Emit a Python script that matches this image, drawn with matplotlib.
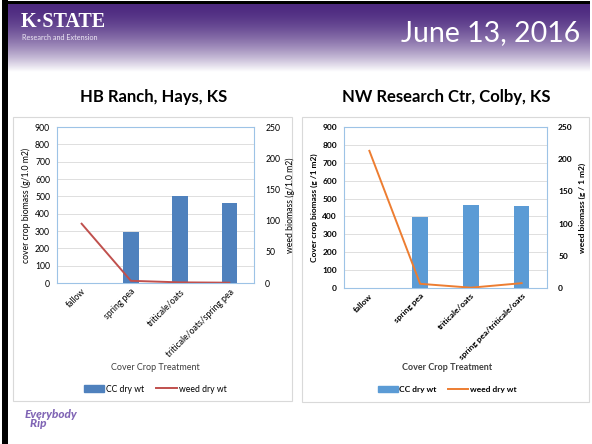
import numpy as np
import matplotlib
matplotlib.use("Agg")
import matplotlib.pyplot as plt
from matplotlib.patches import Rectangle
from matplotlib.lines import Line2D

# ---- data ----
hays_treatments = ["fallow", "spring pea", "triticale/oats", "triticale/oats/spring pea"]
hays_cc_wt = [0, 295, 500, 462]
hays_weed_wt = [95, 3.5, 1.0, 0.5]

colby_treatments = ["fallow", "spring pea", "triticale/oats", "spring pea/triticale/oats"]
colby_cc_wt = [0, 395, 462, 458]
colby_weed_wt = [213, 6.5, 0.5, 7.5]

cc_ticks = list(range(0, 1000, 100))
weed_ticks = list(range(0, 300, 50))

plt.rcParams["font.family"] = ["Lato", "DejaVu Sans"]

W, H = 592, 444
fig = plt.figure(figsize=(W / 100, H / 100), dpi=100)


def fx(px):
    return px / W


def fy(py):
    return 1 - py / H


# ---- slide background: purple header fading to white ----
bg = fig.add_axes([0, 0, 1, 1], zorder=-10)
bg.set_xlim(0, W)
bg.set_ylim(H, 0)
bg.axis("off")
t = np.linspace(0, 1, 120)[:, None]
fade = np.clip(t ** 1.7, 0, 1)
top = np.array([0.30, 0.16, 0.50])
grad = top[None, None, :] * (1 - fade[..., None]) + np.ones(3)[None, None, :] * fade[..., None]
grad = np.repeat(grad, 2, axis=1)
bg.imshow(grad, extent=[8, 590, 72, 3], aspect="auto", interpolation="bilinear")
bg.add_patch(Rectangle((2, 0), 6, H, color="black", lw=0))
bg.add_patch(Rectangle((2, 1), 588, 3, color="black", lw=0))

bg.text(21, 22, "K·STATE", family=["Liberation Serif"], weight="bold",
        fontsize=14.5, color="white", va="center", ha="left")
bg.text(22, 37, "Research and Extension", fontsize=5.2, color="#ece6f4",
        va="center", ha="left")
bg.text(580, 33, "June 13, 2016", fontsize=20.5, color="white",
        va="center", ha="right")

# panel frames
bg.add_patch(Rectangle((13, 117), 279, 284, fill=False, ec="#d9d9d9", lw=0.8))
bg.add_patch(Rectangle((302, 117), 287, 285, fill=False, ec="#d9d9d9", lw=0.8))

bg.text(154, 97, "HB Ranch, Hays, KS", fontsize=12, weight="bold",
        ha="center", va="center", color="black")
bg.text(446, 97, "NW Research Ctr, Colby, KS", fontsize=12, weight="bold",
        ha="center", va="center", color="black")

# small footer logo
bg.text(25, 419, "Everybody\n  Rip", fontsize=8.5, weight="black", style="italic",
        color="#6a4aa8", ha="left", va="center", linespacing=0.75, alpha=0.85)


def draw_panel(rect, cats, cc, weed, bar_color, line_color, ylab, y2lab,
               bold, xlab_y, legend_x):
    wt = "bold" if bold else "normal"
    fs = 6.0 if bold else 6.2
    ax = fig.add_axes(rect)
    x = np.arange(len(cats))
    ax.bar(x, cc, width=0.31, color=bar_color, zorder=3)
    ax.set_xlim(-0.5, len(cats) - 0.5)
    ax.set_ylim(0, 900)
    ax.set_yticks(cc_ticks, labels=[str(v) for v in cc_ticks],
                  fontsize=fs, fontweight=wt)
    ax.yaxis.grid(True, color="#d9d9d9", lw=0.6, zorder=0)
    ax.set_axisbelow(True)
    ax.tick_params(axis="y", length=0, pad=5)
    ax.tick_params(axis="x", length=0, pad=3)
    ax.set_xticks(x)
    ax.set_xticklabels(cats, rotation=45, ha="right", rotation_mode="anchor",
                       fontsize=fs, fontweight=wt)
    ax.set_ylabel(ylab, fontsize=fs, fontweight=wt, labelpad=3)
    for s in ax.spines.values():
        s.set_color("#9dc3e6")
        s.set_linewidth(0.8)

    ax2 = ax.twinx()
    ax2.plot(x, weed, color=line_color, lw=1.4, zorder=4)
    ax2.set_ylim(0, 250)
    ax2.set_yticks(weed_ticks, labels=[str(v) for v in weed_ticks],
                   fontsize=fs, fontweight=wt)
    ax2.tick_params(axis="y", length=0, pad=8)
    ax2.set_ylabel(y2lab, fontsize=fs, fontweight=wt, labelpad=4)
    for s in ax2.spines.values():
        s.set_visible(False)

    fig.text(fx(legend_x), fy(xlab_y), "Cover Crop Treatment", fontsize=6.5,
             fontweight=wt, ha="center", va="center", color="#404040")
    handles = [Rectangle((0, 0), 1, 1, color=bar_color),
               Line2D([0], [0], color=line_color, lw=1.4)]
    fig.legend(handles, ["CC dry wt", "weed dry wt"], loc="center",
               bbox_to_anchor=(fx(legend_x), fy(389)), ncol=2, frameon=False,
               prop={"size": fs, "weight": wt}, handlelength=2.4,
               handleheight=0.7, columnspacing=1.4, handletextpad=0.2)
    return ax


draw_panel([fx(57), fy(283), fx(254) - fx(57), fy(127) - fy(283)],
           hays_treatments, hays_cc_wt, hays_weed_wt, "#4f81bd", "#c0504d",
           "cover crop biomass (g/1.0 m2)", "weed biomass (g/1.0 m2)",
           False, 368, 155)

draw_panel([fx(344), fy(288), fx(547) - fx(344), fy(127) - fy(288)],
           colby_treatments, colby_cc_wt, colby_weed_wt, "#5b9bd5", "#ed7d31",
           "Cover crop biomass (g /1 m2)", "weed biomass (g / 1 m2)",
           True, 368, 447)

fig.savefig("out.png", dpi=100)
